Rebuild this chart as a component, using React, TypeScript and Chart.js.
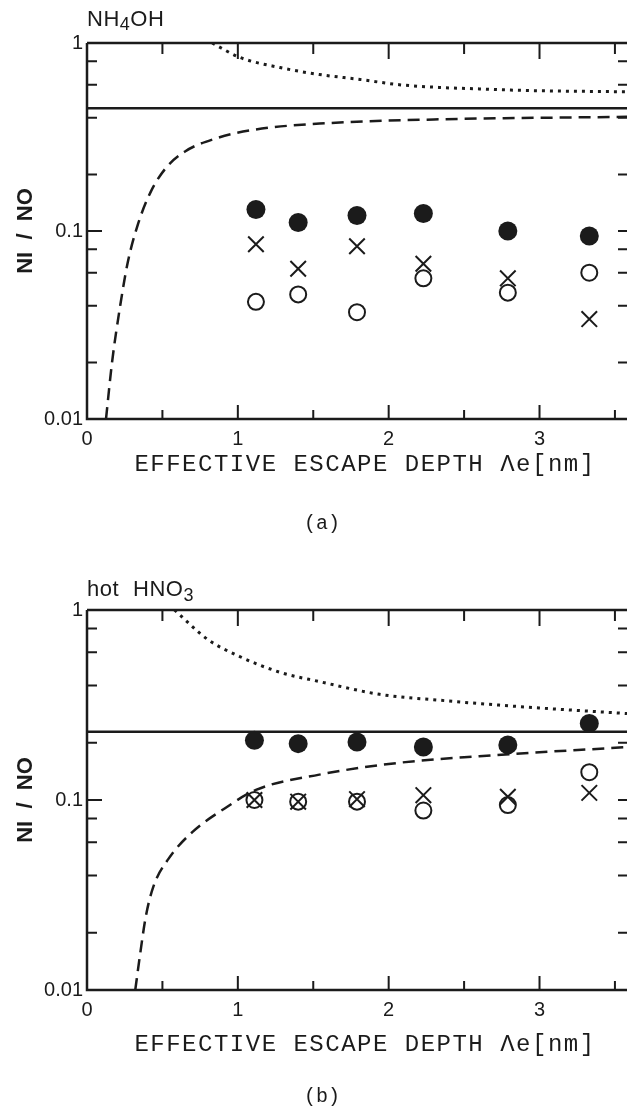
import React, { useEffect, useRef } from 'react';
import { Chart, registerables } from 'chart.js';
Chart.register(...registerables);

// ---------- data ----------
const X_MIN = 0;
const X_MAX = 3.58;
const xTickValues = [0, 1, 2, 3];
const xTickLabels = ['0', '1', '2', '3'];
const xTickMarks = [0.5, 1, 1.5, 2, 2.5, 3, 3.5];
const yTickValues = [0.01, 0.1, 1];
const yTickLabels = ['0.01', '0.1', '1'];
const yMajorMarks = [0.1];
const yMinorMarks = [0.02, 0.04, 0.06, 0.08, 0.2, 0.4, 0.6, 0.8];

// panel (a) NH4OH
const depthA = [1.12, 1.40, 1.79, 2.23, 2.79, 3.33];
const filledA = [0.130, 0.111, 0.121, 0.124, 0.100, 0.094];
const crossA = [0.085, 0.063, 0.083, 0.067, 0.056, 0.034];
const openA = [0.042, 0.046, 0.037, 0.056, 0.047, 0.060];
const levelA = 0.45;
const dottedAx = [0.83, 1.01, 1.28, 1.54, 1.81, 2.07, 2.34, 2.60, 2.87, 3.58];
const dottedAy = [1.0, 0.84, 0.74, 0.68, 0.64, 0.60, 0.58, 0.57, 0.56, 0.55];
const dashedAx = [0.126, 0.166, 0.22, 0.27, 0.34, 0.42, 0.52, 0.65, 0.85, 1.10, 1.60, 2.30, 3.58];
const dashedAy = [0.01, 0.02, 0.04, 0.068, 0.11, 0.16, 0.215, 0.265, 0.31, 0.345, 0.375, 0.392, 0.405];

// panel (b) hot HNO3
const depthB = [1.11, 1.40, 1.79, 2.23, 2.79, 3.33];
const filledB = [0.206, 0.198, 0.202, 0.190, 0.195, 0.253];
const crossB = [0.100, 0.098, 0.101, 0.106, 0.104, 0.109];
const openB = [0.100, 0.098, 0.098, 0.088, 0.094, 0.140];
const levelB = 0.229;
const dottedBx = [0.58, 0.80, 1.01, 1.28, 1.54, 1.94, 2.34, 2.87, 3.58];
const dottedBy = [1.0, 0.70, 0.57, 0.47, 0.42, 0.36, 0.335, 0.31, 0.285];
const dashedBx = [0.32, 0.35, 0.39, 0.44, 0.54, 0.70, 0.91, 1.12, 1.54, 2.07, 2.60, 3.58];
const dashedBy = [0.01, 0.015, 0.0244, 0.035, 0.049, 0.068, 0.090, 0.113, 0.136, 0.157, 0.170, 0.19];

const INK = '#1b1b1b';
const SANS = "'Liberation Sans', Arial, sans-serif";
const MONO = "'Liberation Mono', 'DejaVu Sans Mono', monospace";

const pts = (xs: number[], ys: number[]) => xs.map((x, i) => ({ x, y: ys[i] }));

const frameTicks = {
  id: 'frameTicks',
  afterDraw(chart: any) {
    const { ctx, chartArea: a, scales } = chart;
    const xs = scales.x;
    const ys = scales.y;
    ctx.save();
    ctx.strokeStyle = INK;
    ctx.lineWidth = 2.5;
    ctx.beginPath();
    ctx.moveTo(a.left, a.top);
    ctx.lineTo(a.right, a.top);
    ctx.moveTo(a.left, a.top);
    ctx.lineTo(a.left, a.bottom);
    ctx.lineTo(a.right, a.bottom);
    ctx.stroke();
    ctx.lineWidth = 2;
    ctx.beginPath();
    xTickMarks.forEach((v) => {
      const px = xs.getPixelForValue(v);
      const len = Number.isInteger(v) ? 14 : 9;
      ctx.moveTo(px, a.bottom);
      ctx.lineTo(px, a.bottom - len);
      ctx.moveTo(px, a.top);
      ctx.lineTo(px, a.top + len + 2);
    });
    yMajorMarks.forEach((v) => {
      const py = ys.getPixelForValue(v);
      ctx.moveTo(a.left, py);
      ctx.lineTo(a.left + 15, py);
      ctx.moveTo(a.right, py);
      ctx.lineTo(a.right - 9, py);
    });
    yMinorMarks.forEach((v) => {
      const py = ys.getPixelForValue(v);
      ctx.moveTo(a.left, py);
      ctx.lineTo(a.left + 10, py);
      ctx.moveTo(a.right, py);
      ctx.lineTo(a.right - 9, py);
    });
    ctx.stroke();
    ctx.restore();
  },
};

type PanelProps = {
  top: number;
  height: number;
  areaTop: number;
  areaBottom: number;
  depth: number[];
  filled: number[];
  cross: number[];
  open: number[];
  level: number;
  dotX: number[];
  dotY: number[];
  dashX: number[];
  dashY: number[];
};

function Panel(p: PanelProps) {
  const ref = useRef<HTMLCanvasElement>(null);
  useEffect(() => {
    if (!ref.current) return;
    const xAxisH = 40;
    const chart = new Chart(ref.current, {
      type: 'scatter',
      data: {
        datasets: [
          {
            data: [{ x: X_MIN, y: p.level }, { x: X_MAX, y: p.level }],
            showLine: true,
            borderColor: INK,
            borderWidth: 2.5,
            pointRadius: 0,
          },
          {
            data: pts(p.dotX, p.dotY),
            showLine: true,
            borderColor: INK,
            borderWidth: 3,
            borderDash: [3, 5],
            pointRadius: 0,
            cubicInterpolationMode: 'monotone',
          },
          {
            data: pts(p.dashX, p.dashY),
            showLine: true,
            borderColor: INK,
            borderWidth: 2.5,
            borderDash: [12, 7],
            pointRadius: 0,
            cubicInterpolationMode: 'monotone',
          },
          {
            data: pts(p.depth, p.filled),
            pointStyle: 'circle',
            pointRadius: 9.5,
            backgroundColor: INK,
            borderColor: INK,
            borderWidth: 0,
          },
          {
            data: pts(p.depth, p.open),
            pointStyle: 'circle',
            pointRadius: 8,
            backgroundColor: 'rgba(255,255,255,0)',
            borderColor: INK,
            borderWidth: 2,
          },
          {
            data: pts(p.depth, p.cross),
            pointStyle: 'crossRot',
            pointRadius: 11,
            borderColor: INK,
            borderWidth: 2,
          },
        ],
      } as any,
      options: {
        animation: false,
        responsive: false,
        maintainAspectRatio: false,
        devicePixelRatio: 1,
        layout: {
          autoPadding: false,
          padding: { top: p.areaTop, left: 0, right: 0, bottom: p.height - p.areaBottom - xAxisH },
        },
        plugins: { legend: { display: false }, tooltip: { enabled: false } },
        scales: {
          x: {
            type: 'linear',
            min: X_MIN,
            max: X_MAX,
            grid: { display: false, drawTicks: false },
            border: { display: false },
            afterBuildTicks: (s: any) => {
              s.ticks = xTickValues.map((v) => ({ value: v }));
            },
            afterFit: (s: any) => {
              s.height = xAxisH;
              s.paddingLeft = 0;
              s.paddingRight = 0;
            },
            ticks: {
              padding: 8,
              autoSkip: false,
              maxRotation: 0,
              color: INK,
              font: { family: SANS, size: 20 },
              callback: (_v: any, i: number) => xTickLabels[i],
            },
          },
          y: {
            type: 'logarithmic',
            min: 0.01,
            max: 1,
            grid: { display: false, drawTicks: false },
            border: { display: false },
            afterBuildTicks: (s: any) => {
              s.ticks = yTickValues.map((v) => ({ value: v }));
            },
            afterFit: (s: any) => {
              s.width = 87;
              s.paddingTop = 0;
              s.paddingBottom = 0;
            },
            ticks: {
              padding: 4,
              autoSkip: false,
              color: INK,
              font: { family: SANS, size: 20 },
              callback: (_v: any, i: number) => yTickLabels[i],
            },
            title: {
              display: true,
              text: 'NI  /  NO',
              color: INK,
              font: { family: SANS, size: 22, weight: 'bold' },
              padding: { top: 13, bottom: 0 },
            },
          },
        },
      } as any,
      plugins: [frameTicks],
    });
    return () => chart.destroy();
  }, []);
  return (
    <canvas
      ref={ref}
      width={627}
      height={p.height}
      style={{ position: 'absolute', left: 0, top: p.top, width: 627, height: p.height }}
    />
  );
}

const abs = (extra: any) => ({ position: 'absolute', whiteSpace: 'nowrap', color: INK, ...extra });

export default function App() {
  useEffect(() => {
    document.body.style.margin = '0';
  }, []);
  const xTitle = 'EFFECTIVE ESCAPE DEPTH \u039Be[nm]';
  return (
    <div style={{ position: 'relative', width: 627, height: 1111, background: '#fff', overflow: 'hidden' }}>
      <Panel
        top={0}
        height={560}
        areaTop={43}
        areaBottom={419}
        depth={depthA}
        filled={filledA}
        cross={crossA}
        open={openA}
        level={levelA}
        dotX={dottedAx}
        dotY={dottedAy}
        dashX={dashedAx}
        dashY={dashedAy}
      />
      <Panel
        top={560}
        height={551}
        areaTop={50}
        areaBottom={430}
        depth={depthB}
        filled={filledB}
        cross={crossB}
        open={openB}
        level={levelB}
        dotX={dottedBx}
        dotY={dottedBy}
        dashX={dashedBx}
        dashY={dashedBy}
      />
      <div style={abs({ left: 87, top: 7, font: `22px ${SANS}`, lineHeight: '24px', letterSpacing: '0.5px' })}>
        NH<span style={{ fontSize: 18, position: 'relative', top: 4 }}>4</span>OH
      </div>
      <div style={abs({ left: 87, top: 577, font: `22px ${SANS}`, lineHeight: '24px', letterSpacing: '0.5px' })}>
        hot<span style={{ marginLeft: 14 }}>HNO</span>
        <span style={{ fontSize: 18, position: 'relative', top: 5 }}>3</span>
      </div>
      <div style={abs({ left: 365, top: 453, transform: 'translateX(-50%)', font: `24px ${MONO}`, lineHeight: '24px', letterSpacing: '1.5px' })}>
        {xTitle}
      </div>
      <div style={abs({ left: 365, top: 1033, transform: 'translateX(-50%)', font: `24px ${MONO}`, lineHeight: '24px', letterSpacing: '1.5px' })}>
        {xTitle}
      </div>
      <div style={abs({ left: 322, top: 512, transform: 'translateX(-50%)', font: `20px ${MONO}`, lineHeight: '24px' })}>
        (a)
      </div>
      <div style={abs({ left: 322, top: 1085, transform: 'translateX(-50%)', font: `20px ${MONO}`, lineHeight: '24px' })}>
        (b)
      </div>
    </div>
  );
}
